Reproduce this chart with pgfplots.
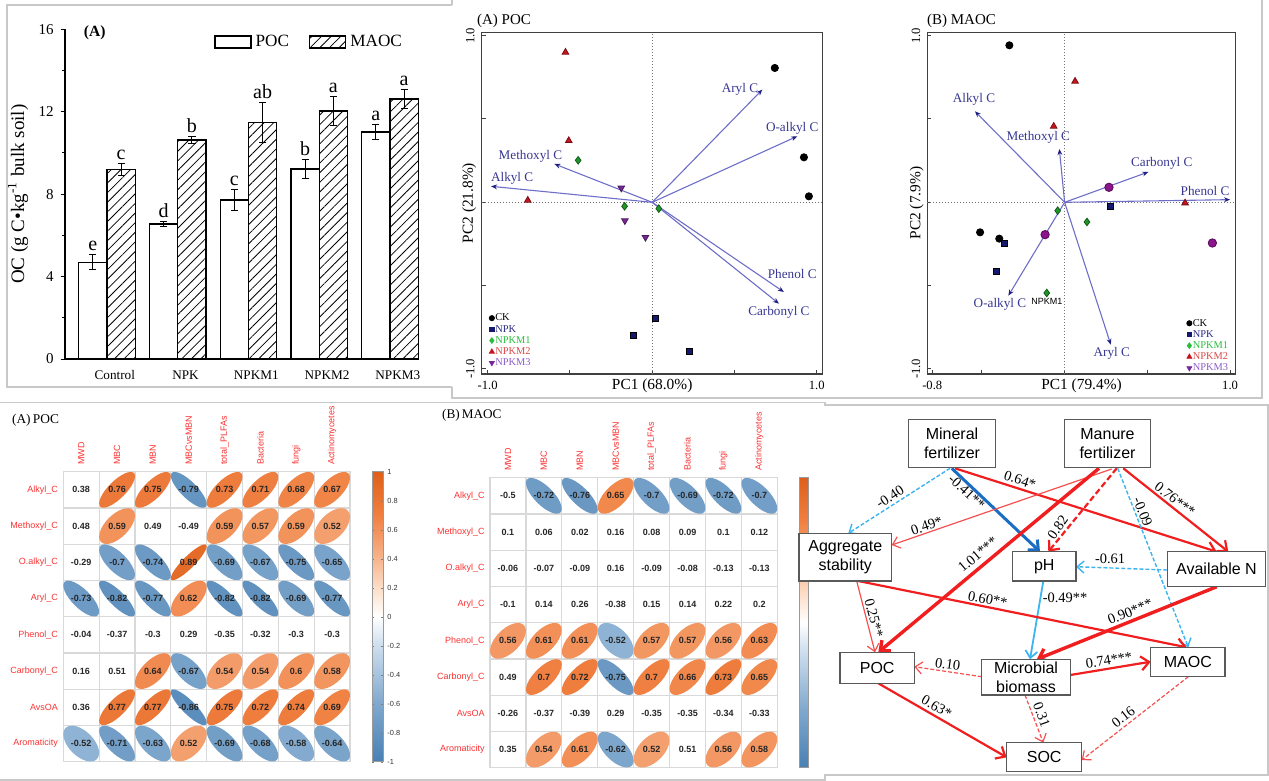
\documentclass[border=0pt]{standalone}
\usepackage{fontspec}
\setmainfont{Liberation Serif}
\newfontfamily\arial{Liberation Sans}
\usepackage{pgfplots}
\usepackage{pgfplotstable}
\pgfplotsset{compat=1.18}
\usetikzlibrary{arrows.meta,patterns.meta}

\definecolor{frame}{RGB}{200,200,200}
\definecolor{ldgline}{RGB}{110,110,200}
\definecolor{ldghead}{RGB}{30,30,130}
\definecolor{ldgtext}{RGB}{55,55,145}
\definecolor{npkc}{RGB}{20,25,110}
\definecolor{m1c}{RGB}{30,150,40}
\definecolor{m2c}{RGB}{200,20,30}
\definecolor{m3c}{RGB}{120,40,150}
\definecolor{m3b}{RGB}{140,20,140}
\definecolor{m1t}{RGB}{40,190,60}
\definecolor{m2t}{RGB}{220,70,70}
\definecolor{m3t}{RGB}{140,90,200}
\definecolor{npkt}{RGB}{40,40,130}
\definecolor{corrred}{RGB}{250,50,50}
\definecolor{semred}{RGB}{240,30,30}
\definecolor{semlred}{RGB}{245,80,80}
\definecolor{semblue}{RGB}{25,110,195}
\definecolor{semlblue}{RGB}{60,180,240}

\pgfdeclareplotmark{corrEll}{%
  \pgfpathellipse{\pgfpointorigin}{\pgfpoint{\ellA pt}{\ellA pt}}{\pgfpoint{\ellB pt}{-\ellB pt}}%
  \pgfusepathqfill}

\pgfplotstableread{
x poc pe pl maoc me ml
0 4.70 0.35 e 9.20 0.30 c
1 6.55 0.10 d 10.63 0.15 b
2 7.72 0.50 c 11.47 0.97 ab
3 9.22 0.45 b 12.04 0.70 a
4 11.02 0.36 a 12.62 0.44 a
}\bardata

\pgfplotstableread{
x y g
0.745 0.806 1
0.922 0.27 1
0.952 0.036 1
0.018 -0.694 2
-0.116 -0.798 2
0.223 -0.896 2
-0.45 0.252 3
-0.168 -0.024 3
0.04 -0.038 3
-0.527 0.90 4
-0.507 0.37 4
-0.756 0.012 4
-0.188 0.086 5
-0.166 -0.11 5
-0.041 -0.21 5
}\pcaA

\pgfplotstableread{
x y g
-0.334 0.942 1
-0.511 -0.18 1
-0.395 -0.218 1
0.279 -0.024 2
-0.366 -0.244 2
-0.411 -0.414 2
-0.042 -0.05 3
0.135 -0.118 3
-0.108 -0.544 3
0.063 0.726 4
-0.066 0.456 4
0.728 -0.004 4
0.268 0.09 5
-0.118 -0.194 5
0.893 -0.244 5
}\pcaB

\pgfplotstableread{
u v
0.669 0.676
0.881 0.396
-0.594 0.23
-0.979 0.096
0.80 -0.538
0.77 -0.608
}\ldgA

\pgfplotstableread{
u v
-0.542 0.546
-0.032 0.32
0.506 0.182
1.0 0.016
-0.34 -0.56
0.279 -0.854
}\ldgB

\pgfplotstableread[row sep=\\]{
c r v\\
1 1 0.38\\ 2 1 0.76\\ 3 1 0.75\\ 4 1 -0.79\\ 5 1 0.73\\ 6 1 0.71\\ 7 1 0.68\\ 8 1 0.67\\
1 2 0.48\\ 2 2 0.59\\ 3 2 0.49\\ 4 2 -0.49\\ 5 2 0.59\\ 6 2 0.57\\ 7 2 0.59\\ 8 2 0.52\\
1 3 -0.29\\ 2 3 -0.7\\ 3 3 -0.74\\ 4 3 0.89\\ 5 3 -0.69\\ 6 3 -0.67\\ 7 3 -0.75\\ 8 3 -0.65\\
1 4 -0.73\\ 2 4 -0.82\\ 3 4 -0.77\\ 4 4 0.62\\ 5 4 -0.82\\ 6 4 -0.82\\ 7 4 -0.69\\ 8 4 -0.77\\
1 5 -0.04\\ 2 5 -0.37\\ 3 5 -0.3\\ 4 5 0.29\\ 5 5 -0.35\\ 6 5 -0.32\\ 7 5 -0.3\\ 8 5 -0.3\\
1 6 0.16\\ 2 6 0.51\\ 3 6 0.64\\ 4 6 -0.67\\ 5 6 0.54\\ 6 6 0.54\\ 7 6 0.6\\ 8 6 0.58\\
1 7 0.36\\ 2 7 0.77\\ 3 7 0.77\\ 4 7 -0.86\\ 5 7 0.75\\ 6 7 0.72\\ 7 7 0.74\\ 8 7 0.69\\
1 8 -0.52\\ 2 8 -0.71\\ 3 8 -0.63\\ 4 8 0.52\\ 5 8 -0.69\\ 6 8 -0.68\\ 7 8 -0.58\\ 8 8 -0.64\\
}\corrA

\pgfplotstableread[row sep=\\]{
c r v\\
1 1 -0.5\\ 2 1 -0.72\\ 3 1 -0.76\\ 4 1 0.65\\ 5 1 -0.7\\ 6 1 -0.69\\ 7 1 -0.72\\ 8 1 -0.7\\
1 2 0.1\\ 2 2 0.06\\ 3 2 0.02\\ 4 2 0.16\\ 5 2 0.08\\ 6 2 0.09\\ 7 2 0.1\\ 8 2 0.12\\
1 3 -0.06\\ 2 3 -0.07\\ 3 3 -0.09\\ 4 3 0.16\\ 5 3 -0.09\\ 6 3 -0.08\\ 7 3 -0.13\\ 8 3 -0.13\\
1 4 -0.1\\ 2 4 0.14\\ 3 4 0.26\\ 4 4 -0.38\\ 5 4 0.15\\ 6 4 0.14\\ 7 4 0.22\\ 8 4 0.2\\
1 5 0.56\\ 2 5 0.61\\ 3 5 0.61\\ 4 5 -0.52\\ 5 5 0.57\\ 6 5 0.57\\ 7 5 0.56\\ 8 5 0.63\\
1 6 0.49\\ 2 6 0.7\\ 3 6 0.72\\ 4 6 -0.75\\ 5 6 0.7\\ 6 6 0.66\\ 7 6 0.73\\ 8 6 0.65\\
1 7 -0.26\\ 2 7 -0.37\\ 3 7 -0.39\\ 4 7 0.29\\ 5 7 -0.35\\ 6 7 -0.35\\ 7 7 -0.34\\ 8 7 -0.33\\
1 8 0.35\\ 2 8 0.54\\ 3 8 0.61\\ 4 8 -0.62\\ 5 8 0.52\\ 6 8 0.51\\ 7 8 0.56\\ 8 8 0.58\\
}\corrB

\newcommand\semlab{\fontsize{7.2}{8}\selectfont}
\newcommand\boxfont{\arial\fontsize{8}{9.7}\selectfont}

\pgfplotsset{
  pca/.style={scale only axis, height=170.85pt, ymin=-1.03, ymax=1.02,
    axis line style={line width=0.6pt, black!75},
    tick align=inside, tick pos=left, major tick length=2pt,
    tick style={black!75, line width=0.5pt},
    ytick={-1,-0.5,0,0.5,1}, yticklabels={-1.0,,,,1.0},
    tick label style={font=\fontsize{6.3}{7}\selectfont},
    yticklabel style={rotate=90, anchor=south},
    xlabel style={at={(axis description cs:0.5,0)}, anchor=center, yshift=-5.9pt, font=\fontsize{7.7}{8}\selectfont},
    ylabel style={anchor=center, font=\fontsize{7.7}{8}\selectfont},
    clip=false,
    legend style={draw=none, fill=none, font=\fontsize{5.2}{5.6}\selectfont, inner sep=0pt, row sep=0pt,
      nodes={inner sep=0.4pt, text height=3.8pt, text depth=1pt}},
    legend cell align=left,
    legend image code/.code={\draw[mark repeat=2,mark phase=2,##1] plot coordinates {(0pt,0pt)(1.5pt,0pt)(3pt,0pt)};},
  },
  corr/.style={scale only axis, height=145pt, xmin=0.5, xmax=8.5, ymin=0.5, ymax=8.5, y dir=reverse,
    axis line style={draw=black!15, line width=0.6pt},
    xtick={1,...,8}, ytick={1,...,8}, major tick length=0pt, minor tick length=0pt,
    minor xtick={1.5,2.5,...,7.5}, minor ytick={1.5,2.5,...,7.5},
    xminorgrids=true, yminorgrids=true, minor grid style={black!15, line width=0.6pt},
    xticklabel pos=upper,
    xticklabels={MWD,MBC,MBN,MBCvsMBN,total\_PLFAs,Bacteria,fungi,Actinomycetes},
    yticklabels={Alkyl\_C,Methoxyl\_C,O.alkyl\_C,Aryl\_C,Phenol\_C,Carbonyl\_C,AvsOA,Aromaticity},
    tick label style={font=\arial\fontsize{4.5}{5}\selectfont, text=corrred, inner sep=0pt},
    xticklabel style={rotate=90, anchor=west},
    yticklabel style={anchor=east},
    xticklabel shift=3.3pt, yticklabel shift=2.5pt,
    colormap={corrmap}{rgb255(0pt)=(72,128,180) rgb255(4pt)=(128,168,205) rgb255(8pt)=(205,222,238) rgb255(10pt)=(255,255,255) rgb255(12pt)=(252,222,200) rgb255(14pt)=(247,180,140) rgb255(17pt)=(240,128,65) rgb255(20pt)=(222,95,25)},
    point meta min=-1, point meta max=1,
    clip=false,
  },
  barletters/.style={nodes near coords,
    every node near coord/.append style={font=\fontsize{10}{10}\selectfont, anchor=south, inner sep=0.5pt, yshift={\barerr*10.303pt+1.2pt}}},
}

\begin{document}
\begin{tikzpicture}
\path[use as bounding box] (0pt,0pt) rectangle (634.5pt,-390.5pt);

% ---------------- Bar chart ----------------
\begin{axis}[
  at={(32.5pt,-179.5pt)}, anchor=south west, scale only axis,
  width=177pt, height=164.85pt,
  xmin=-0.594, xmax=4.41, ymin=0, ymax=16,
  axis lines*=left, axis line style={line width=0.6pt},
  ytick={0,4,8,12,16}, minor ytick={2,6,10,14},
  tick align=outside, major tick length=2.2pt, minor tick length=1.3pt,
  tick style={line width=0.5pt, black},
  xtick={0.11,1.11,2.11,3.11,4.11}, xticklabels={Control,NPK,NPKM1,NPKM2,NPKM3},
  x tick style={draw=none},
  /pgf/number format/assume math mode=true,
  yticklabel style={font=\fontsize{7.5}{8}\selectfont},
  xticklabel style={font=\fontsize{6.6}{7}\selectfont},
  ylabel={OC (g C\textbullet kg\textsuperscript{-1} bulk soil)},
  ylabel style={at={(axis description cs:-0.133,0.5)}, anchor=center, font=\fontsize{9.5}{10}\selectfont},
  clip=false,
  legend style={at={(0.421,0.9615)}, anchor=west, draw=none, fill=none, legend columns=2,
    font=\fontsize{8.6}{9}\selectfont, inner sep=0pt,
    /tikz/every even column/.append style={column sep=8pt}},
]
\addplot[ybar, bar width=0.4, bar shift=0pt, draw=black, fill=white, line width=0.6pt, forget plot,
  point meta=explicit symbolic, barletters,
  visualization depends on={\thisrow{pe}\as\barerr},
  error bars/.cd, y dir=both, y explicit, error bar style={line width=0.5pt, black},
  error mark options={rotate=90, mark size=1.8pt, line width=0.5pt, black}]
  table[x expr=\thisrow{x}-0.2, y=poc, y error=pe, meta=pl]{\bardata};
\addplot[ybar, bar width=0.4, bar shift=0pt, draw=black, fill=white, line width=0.6pt, forget plot,
  postaction={pattern={Lines[angle=45,distance=3.4pt,line width=0.4pt]}},
  point meta=explicit symbolic, barletters,
  visualization depends on={\thisrow{me}\as\barerr},
  error bars/.cd, y dir=both, y explicit, error bar style={line width=0.5pt, black},
  error mark options={rotate=90, mark size=1.8pt, line width=0.5pt, black}]
  table[x expr=\thisrow{x}+0.2, y=maoc, y error=me, meta=ml]{\bardata};
\addlegendimage{legend image code/.code={\draw[black, line width=0.6pt, fill=white] (0pt,-3pt) rectangle (18pt,3pt);}}
\addlegendentry{POC}
\addlegendimage{legend image code/.code={\draw[black, line width=0.6pt, fill=white, postaction={pattern={Lines[angle=45,distance=3.4pt,line width=0.4pt]}}] (0pt,-3pt) rectangle (18pt,3pt);}}
\addlegendentry{MAOC}
\node[anchor=west, inner sep=0pt, font=\bfseries\fontsize{7.8}{8}\selectfont] at (rel axis cs:0.052,0.989) {(A)};
\end{axis}

% ---------------- PCA A ----------------
\begin{axis}[pca, at={(240.85pt,-16.15pt)}, anchor=north west, width=170.5pt,
  xmin=-1.036, xmax=1.036, xtick={-1,-0.5,0,0.5,1}, xticklabels={-1.0,,,,1.0},
  xlabel={PC1 (68.0\%)}, ylabel={PC2 (21.8\%)},
  ylabel style={at={(axis description cs:-0.0364,0.5)}},
  legend style={at={(0.021,0.181)}, anchor=north west}]
\addplot[black!55, densely dotted, line width=0.5pt, forget plot] coordinates {(0,-1.03) (0,1.02)};
\addplot[black!55, densely dotted, line width=0.5pt, forget plot] coordinates {(-1.036,0) (1.036,0)};
\addplot[ldgline, line width=0.55pt, forget plot, -{Stealth[length=3pt,width=2.4pt,color=ldghead]},
  quiver={u=\thisrow{u}, v=\thisrow{v}}] table[x expr=0, y expr=0]{\ldgA};
\addplot[only marks, mark=*, mark size=1.8pt, black, forget plot, restrict expr to domain={\thisrow{g}}{0.5:1.5}] table[x=x,y=y]{\pcaA};
\addplot[only marks, mark=square*, mark size=1.5pt, draw=black, fill=npkc, forget plot, restrict expr to domain={\thisrow{g}}{1.5:2.5}] table[x=x,y=y]{\pcaA};
\addplot[only marks, mark=diamond*, mark size=1.9pt, draw=m1c!60!black, fill=m1c, forget plot, restrict expr to domain={\thisrow{g}}{2.5:3.5}] table[x=x,y=y]{\pcaA};
\addplot[only marks, mark=triangle*, mark size=1.9pt, draw=m2c!60!black, fill=m2c, forget plot, restrict expr to domain={\thisrow{g}}{3.5:4.5}] table[x=x,y=y]{\pcaA};
\addplot[only marks, mark=triangle*, mark options={rotate=180}, mark size=1.9pt, draw=m3c!60!black, fill=m3c, forget plot, restrict expr to domain={\thisrow{g}}{4.5:5.5}] table[x=x,y=y]{\pcaA};
\addlegendimage{only marks, mark=*, mark size=1.3pt, black}\addlegendentry{CK}
\addlegendimage{only marks, mark=square*, mark size=1.2pt, draw=npkc, fill=npkc}\addlegendentry{\textcolor{npkt}{NPK}}
\addlegendimage{only marks, mark=diamond*, mark size=1.4pt, draw=m1t, fill=m1t}\addlegendentry{\textcolor{m1t}{NPKM1}}
\addlegendimage{only marks, mark=triangle*, mark size=1.4pt, draw=m2c, fill=m2c}\addlegendentry{\textcolor{m2t}{NPKM2}}
\addlegendimage{only marks, mark=triangle*, mark options={rotate=180}, mark size=1.4pt, draw=m3c, fill=m3c}\addlegendentry{\textcolor{m3t}{NPKM3}}
\begin{scope}[every node/.style={ldgtext, font=\fontsize{6.6}{7}\selectfont, inner sep=0pt}]
\node at (axis cs:0.533,0.680) {Aryl C};
\node at (axis cs:0.851,0.446) {O-alkyl C};
\node at (axis cs:-0.740,0.276) {Methoxyl C};
\node at (axis cs:-0.851,0.142) {Alkyl C};
\node at (axis cs:0.851,-0.430) {Phenol C};
\node at (axis cs:0.770,-0.663) {Carbonyl C};
\end{scope}
\end{axis}

% ---------------- PCA B ----------------
\begin{axis}[pca, at={(463.65pt,-16.15pt)}, anchor=north west, width=154.2pt,
  xmin=-0.83, xmax=1.034, xtick={-0.8,-0.5,0,0.5,1}, xticklabels={-0.8,,,,1.0},
  xlabel={PC1 (79.4\%)}, ylabel={PC2 (7.9\%)},
  ylabel style={at={(axis description cs:-0.0344,0.5)}},
  legend style={at={(0.840,0.166)}, anchor=north west}]
\addplot[black!55, densely dotted, line width=0.5pt, forget plot] coordinates {(0,-1.03) (0,1.02)};
\addplot[black!55, densely dotted, line width=0.5pt, forget plot] coordinates {(-0.83,0) (1.034,0)};
\addplot[ldgline, line width=0.55pt, forget plot, -{Stealth[length=3pt,width=2.4pt,color=ldghead]},
  quiver={u=\thisrow{u}, v=\thisrow{v}}] table[x expr=0, y expr=0]{\ldgB};
\addplot[only marks, mark=*, mark size=1.8pt, black, forget plot, restrict expr to domain={\thisrow{g}}{0.5:1.5}] table[x=x,y=y]{\pcaB};
\addplot[only marks, mark=square*, mark size=1.5pt, draw=black, fill=npkc, forget plot, restrict expr to domain={\thisrow{g}}{1.5:2.5}] table[x=x,y=y]{\pcaB};
\addplot[only marks, mark=diamond*, mark size=1.9pt, draw=m1c!60!black, fill=m1c, forget plot, restrict expr to domain={\thisrow{g}}{2.5:3.5}] table[x=x,y=y]{\pcaB};
\addplot[only marks, mark=triangle*, mark size=1.9pt, draw=m2c!60!black, fill=m2c, forget plot, restrict expr to domain={\thisrow{g}}{3.5:4.5}] table[x=x,y=y]{\pcaB};
\addplot[only marks, mark=*, mark size=2.1pt, draw=m3b!60!black, fill=m3b, forget plot, restrict expr to domain={\thisrow{g}}{4.5:5.5}] table[x=x,y=y]{\pcaB};
\addlegendimage{only marks, mark=*, mark size=1.3pt, black}\addlegendentry{CK}
\addlegendimage{only marks, mark=square*, mark size=1.2pt, draw=npkc, fill=npkc}\addlegendentry{\textcolor{npkt}{NPK}}
\addlegendimage{only marks, mark=diamond*, mark size=1.4pt, draw=m1t, fill=m1t}\addlegendentry{\textcolor{m1t}{NPKM1}}
\addlegendimage{only marks, mark=triangle*, mark size=1.4pt, draw=m2c, fill=m2c}\addlegendentry{\textcolor{m2t}{NPKM2}}
\addlegendimage{only marks, mark=triangle*, mark options={rotate=180}, mark size=1.4pt, draw=m3c, fill=m3c}\addlegendentry{\textcolor{m3t}{NPKM3}}
\begin{scope}[every node/.style={ldgtext, font=\fontsize{6.6}{7}\selectfont, inner sep=0pt}]
\node at (axis cs:-0.548,0.616) {Alkyl C};
\node at (axis cs:-0.159,0.392) {Methoxyl C};
\node at (axis cs:0.587,0.236) {Carbonyl C};
\node at (axis cs:0.849,0.066) {Phenol C};
\node at (axis cs:-0.391,-0.614) {O-alkyl C};
\node at (axis cs:0.285,-0.908) {Aryl C};
\end{scope}
\node[inner sep=0pt, font=\arial\fontsize{4.5}{5}\selectfont] at (axis cs:-0.108,-0.594) {NPKM1};
\end{axis}

% ---------------- Corr A ----------------
\begin{axis}[corr, at={(31.65pt,-235.85pt)}, anchor=north west, width=143.35pt,
  colorbar,
  colorbar style={at={(parent axis.north east)}, anchor=north west, xshift=2.5pt,
    scale only axis, width=5.5pt, height=145pt,
    ytick={-1,-0.8,-0.6,-0.4,-0.2,0,0.2,0.4,0.6,0.8,1},
    yticklabels={-1,-0.8,-0.6,-0.4,-0.2,0,0.2,0.4,0.6,0.8,1},
    yticklabel style={font=\arial\fontsize{3.7}{4}\selectfont, text=black!80},
    major tick length=1pt, tick style={black!50},
    axis line style={draw=black!40, line width=0.4pt},
    yticklabel shift=2pt}]
\addplot[scatter, only marks, mark=corrEll, point meta=\thisrow{v},
  visualization depends on={sqrt((1+\thisrow{v})/8)*17.9 \as \ellA},
  visualization depends on={sqrt((1-\thisrow{v})/8)*17.9 \as \ellB},
  restrict expr to domain={abs(\thisrow{v})}{0.515:2},
  scatter/use mapped color={draw=none, fill=mapped color}]
  table[x=c, y=r]{\corrA};
\addplot[only marks, mark=none, point meta=explicit symbolic, nodes near coords, nodes near coords align=center,
  every node near coord/.append style={font=\arial\bfseries\fontsize{4.5}{5}\selectfont, text=black!85, inner sep=0pt}]
  table[x=c, y=r, meta=v]{\corrA};
\end{axis}

% ---------------- Corr B ----------------
\begin{axis}[corr, at={(245pt,-238.85pt)}, anchor=north west, width=143.65pt,
  colorbar,
  colorbar style={at={(parent axis.north east)}, anchor=north west, xshift=2.5pt,
    scale only axis, width=4.35pt, height=145pt,
    ytick=\empty, axis line style={draw=black!40, line width=0.4pt}}]
\addplot[scatter, only marks, mark=corrEll, point meta=\thisrow{v},
  visualization depends on={sqrt((1+\thisrow{v})/8)*17.9 \as \ellA},
  visualization depends on={sqrt((1-\thisrow{v})/8)*17.9 \as \ellB},
  restrict expr to domain={abs(\thisrow{v})}{0.515:2},
  scatter/use mapped color={draw=none, fill=mapped color}]
  table[x=c, y=r]{\corrB};
\addplot[only marks, mark=none, point meta=explicit symbolic, nodes near coords, nodes near coords align=center,
  every node near coord/.append style={font=\arial\bfseries\fontsize{4.5}{5}\selectfont, text=black!85, inner sep=0pt}]
  table[x=c, y=r, meta=v]{\corrB};
\end{axis}

% ---------------- Overlay: frames, titles, path diagram ----------------
\begin{axis}[at={(0pt,0pt)}, anchor=north west, scale only axis, width=634.5pt, height=390.5pt,
  xmin=0, xmax=1269, ymin=0, ymax=781, y dir=reverse, hide axis, clip=false]
\draw[frame, line width=0.6pt] (452,5) -- (7,5) -- (7,387) -- (452,387);
\draw[frame, line width=0.6pt] (452,0) -- (452,5);
\draw[frame, line width=0.6pt] (452,387) -- (452,398) -- (1262,398) -- (1262,0);
\draw[frame, line width=0.6pt] (0,402.5) -- (825,402.5) -- (825,405) -- (1268,405) -- (1268,775) -- (825,775) -- (825,780) -- (0,780);
\node[anchor=west, inner sep=0pt, font=\fontsize{7.5}{8}\selectfont] at (476.7,20.7) {(A) POC};
\node[anchor=west, inner sep=0pt, font=\fontsize{7.5}{8}\selectfont] at (926.7,20.7) {(B) MAOC};
\node[anchor=west, inner sep=0pt, font=\fontsize{6.7}{7}\selectfont] at (11.7,420.7) {(A)\,POC};
\node[anchor=west, inner sep=0pt, font=\fontsize{6.6}{7}\selectfont] at (441.7,415) {(B)\,MAOC};

% arrows
\addplot[semlblue, line width=0.7pt, dash pattern=on 2pt off 1pt, -{Straight Barb[length=3.5pt,width=6pt]}] coordinates {(950,468.3) (848.3,533.3)};
\addplot[semblue, line width=1.5pt, -{Straight Barb[length=4pt,width=7pt]}] coordinates {(951.7,468.3) (1040,551.7)};
\addplot[semred, line width=1.1pt, -{Straight Barb[length=4pt,width=7pt]}] coordinates {(955,468.3) (1216.7,551.7)};
\addplot[semlred, line width=0.6pt, -{Straight Barb[length=3.5pt,width=6pt]}] coordinates {(1111.7,469) (891.7,545)};
\addplot[semred, line width=1.7pt, -{Straight Barb[length=4pt,width=7pt]}] coordinates {(1099,468.3) (878.3,652.3)};
\addplot[semred, line width=1.1pt, dash pattern=on 3pt off 1.5pt, -{Straight Barb[length=4pt,width=7pt]}] coordinates {(1116.7,468.3) (1048.3,551.7)};
\addplot[semlblue, line width=0.7pt, dash pattern=on 2pt off 1pt, -{Straight Barb[length=3.5pt,width=6pt]}] coordinates {(1117.7,468.3) (1188.3,647.3)};
\addplot[semred, line width=1.1pt, -{Straight Barb[length=4pt,width=7pt]}] coordinates {(1123.3,468.3) (1228.3,551.7)};
\addplot[semlblue, line width=0.7pt, dash pattern=on 2pt off 1pt, -{Straight Barb[length=3.5pt,width=6pt]}] coordinates {(1167.3,570) (1076,566.7)};
\addplot[semlblue, line width=0.9pt, -{Straight Barb[length=3.5pt,width=6pt]}] coordinates {(1043.3,581) (1030,659.3)};
\addplot[semred, line width=1.7pt, -{Straight Barb[length=4pt,width=7pt]}] coordinates {(1216.7,586.7) (1036.7,659.3)};
\addplot[semlred, line width=0.6pt, -{Straight Barb[length=3.5pt,width=6pt]}] coordinates {(856.7,581) (875,652.3)};
\addplot[semred, line width=1.1pt, -{Straight Barb[length=4pt,width=7pt]}] coordinates {(858.3,581) (1186.7,647.3)};
\addplot[semlred, line width=0.6pt, dash pattern=on 2pt off 1pt, -{Straight Barb[length=3.5pt,width=6pt]}] coordinates {(981.7,676.7) (914.3,666.7)};
\addplot[semred, line width=1.1pt, -{Straight Barb[length=4pt,width=7pt]}] coordinates {(1070.3,675) (1150.7,661.7)};
\addplot[semred, line width=1.1pt, -{Straight Barb[length=4pt,width=7pt]}] coordinates {(878.3,683.3) (1006.7,757.3)};
\addplot[semlred, line width=0.6pt, dash pattern=on 2pt off 1pt, -{Straight Barb[length=3.5pt,width=6pt]}] coordinates {(1025,695) (1043.3,742.7)};
\addplot[semlred, line width=0.6pt, dash pattern=on 2pt off 1pt, -{Straight Barb[length=3.5pt,width=6pt]}] coordinates {(1188.3,676.7) (1081.7,760)};

% boxes
\begin{scope}[every path/.style={draw=black!65, fill=white, line width=0.6pt}]
\draw (908.3,419.3) rectangle (995.7,467.7);
\draw (1064.3,419.3) rectangle (1150.7,467.7);
\draw (799,533.3) rectangle (891.7,581);
\draw (1012.7,551.7) rectangle (1076,581);
\draw (1167.3,551.7) rectangle (1265.7,586.7);
\draw (840,652.3) rectangle (914.3,683.3);
\draw (981.7,659.3) rectangle (1070.3,695);
\draw (1150.7,647.3) rectangle (1225,676.7);
\draw (1006.7,742.7) rectangle (1081.7,771.7);
\end{scope}
\begin{scope}[every node/.style={font=\boxfont, align=center, inner sep=0pt}]
\node at (952,443.5) {Mineral\\fertilizer};
\node at (1107.5,443.5) {Manure\\fertilizer};
\node at (845.3,557.2) {Aggregate\\stability};
\node at (1044.3,566.3) {pH};
\node at (1216.5,569.2) {Available N};
\node at (877.2,667.8) {POC};
\node at (1026,677.2) {Microbial\\biomass};
\node at (1187.9,662) {MAOC};
\node at (1044.2,757.2) {SOC};
\end{scope}
% labels
\begin{scope}[every node/.style={font=\semlab, inner sep=0pt}]
\node[rotate=33] at (890,496.7) {-0.40};
\node[rotate=-43] at (966.7,491.7) {-0.41**};
\node[rotate=-18] at (1020,480) {0.64*};
\node[rotate=19] at (926.7,525.7) {0.49*};
\node[rotate=40] at (977.7,554.3) {1.01***};
\node[rotate=55] at (1057.7,527.7) {0.82};
\node[rotate=-68] at (1142.7,511.7) {-0.09};
\node[rotate=-38] at (1175,499.3) {0.76***};
\node at (1110,558.7) {-0.61};
\node at (1065,597.3) {-0.49**};
\node[rotate=22] at (1130,611.7) {0.90***};
\node[rotate=-75] at (874,618.3) {0.25**};
\node[rotate=-11] at (987.7,599.3) {0.60**};
\node[rotate=-8] at (947.7,664.3) {0.10};
\node[rotate=9] at (1109,660) {0.74***};
\node[rotate=-30] at (936.7,706.7) {0.63*};
\node[rotate=-70] at (1041.7,715) {0.31};
\node[rotate=38] at (1123.3,716.7) {0.16};
\end{scope}
\end{axis}
\end{tikzpicture}
\end{document}
